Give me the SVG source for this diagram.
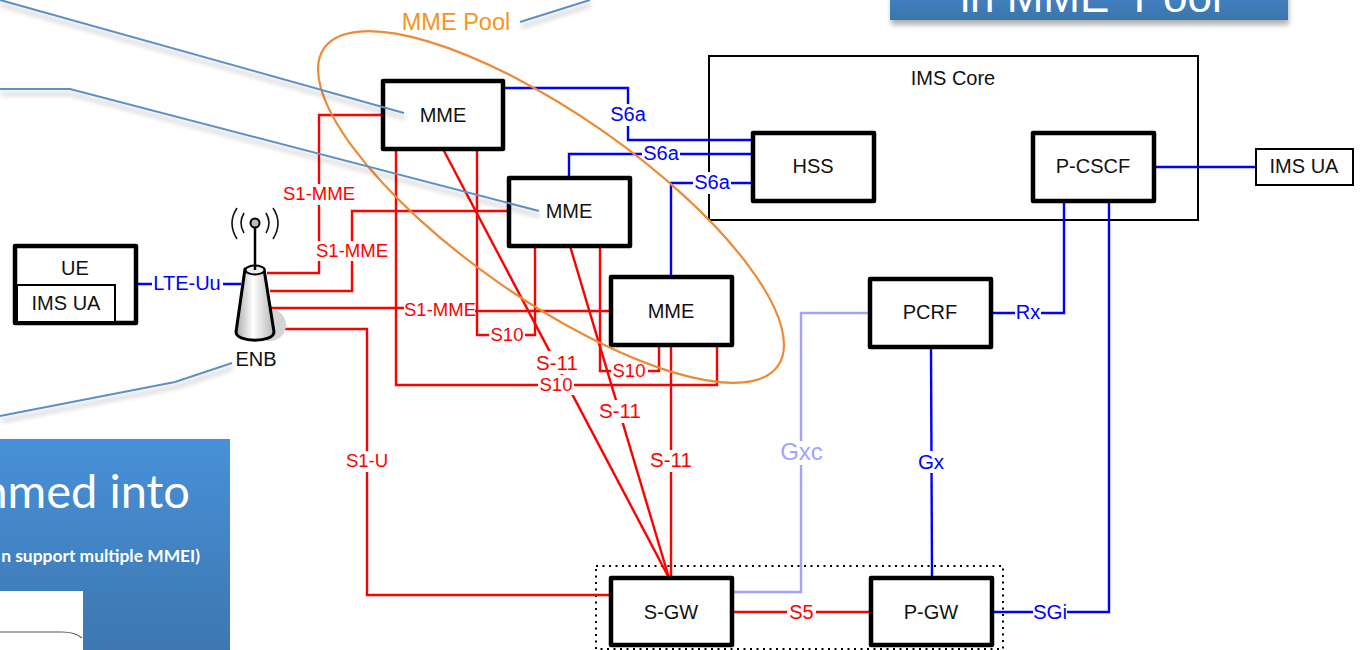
<svg xmlns="http://www.w3.org/2000/svg" width="1363" height="650" viewBox="0 0 1363 650">
<style>
text{font-family:"Liberation Sans",Arial,sans-serif;text-anchor:middle}
.n{fill:#fff;stroke:#000;stroke-width:4.5;stroke-linejoin:round}
.t{font-size:20px;fill:#111}
.r{fill:none;stroke:#f00;stroke-width:2.4}
.b{fill:none;stroke:#00f;stroke-width:2.4}
.rl{font-size:18.5px;fill:#f00}
.rs{font-size:20.5px;fill:#f00}
.bl{font-size:20px;fill:#00f}
.g{fill:#fff}
.c{fill:none;stroke:#5b90c6;stroke-width:2;filter:url(#sh)}
</style>
<defs>
<linearGradient id="bg1" x1="0" y1="0" x2="0" y2="1"><stop offset="0" stop-color="#4890d8"/><stop offset="1" stop-color="#3b74ab"/></linearGradient>
<linearGradient id="cone" x1="0" y1="0" x2="1" y2="0"><stop offset="0" stop-color="#aaa"/><stop offset=".45" stop-color="#fff"/><stop offset="1" stop-color="#b5b5b5"/></linearGradient>
<filter id="sh" x="-10%" y="-30%" width="120%" height="170%"><feGaussianBlur in="SourceAlpha" stdDeviation="2.5"/><feOffset dy="5" dx="1"/><feComponentTransfer><feFuncA type="linear" slope=".3"/></feComponentTransfer><feMerge><feMergeNode/><feMergeNode in="SourceGraphic"/></feMerge></filter>
</defs>

<g id="ims-core"><rect x="709" y="56" width="489" height="164" fill="#fff" stroke="#000" stroke-width="2"/><text class="t" x="953" y="85">IMS Core</text></g>
<rect id="gateway-group" x="596" y="566" width="407" height="83" fill="none" stroke="#000" stroke-width="2" stroke-dasharray="2 4.5"/>

<g id="connectors">
<path class="r" d="M383 115H319V273H267"/>
<path class="r" d="M509 211H352V291H270"/>
<path class="r" d="M271 308H405L475 311H611"/>
<path class="r" d="M271 329H367V595H611"/>
<path class="r" d="M396 149V385H717V345"/>
<path class="r" d="M477 149V335H535V246"/>
<path class="r" d="M600 246V371H659V345"/>
<path class="r" d="M443 149L669 578"/>
<path class="r" d="M570 246L669 578"/>
<path class="r" d="M671 345V578"/>
<path class="r" d="M732 612H871"/>
<path class="b" d="M503 88H628V140H753"/>
<path class="b" d="M569 178V154H753"/>
<path class="b" d="M671 277V183H753"/>
<path class="b" d="M136 284H241"/>
<path class="b" d="M991 313H1064V201"/>
<path class="b" d="M992 612H1109V201"/>
<path class="b" d="M1154 167H1256"/>
<path class="b" d="M931 347L932 578"/>
<path fill="none" stroke="#a3a3ff" stroke-width="2.4" d="M870 313H801V592H732"/>
<g id="labels">
<rect class="g" x="281" y="184" width="75" height="21"/><text class="rl" x="319" y="200">S1-MME</text>
<rect class="g" x="316" y="241" width="73" height="20"/><text class="rl" x="352" y="257">S1-MME</text>
<rect class="g" x="404" y="299" width="71" height="20"/><text class="rl" x="440" y="316">S1-MME</text>
<rect class="g" x="489" y="325" width="36" height="20"/><text class="rl" x="507" y="341">S10</text>
<rect class="g" x="611" y="361" width="37" height="20"/><text class="rl" x="629" y="377">S10</text>
<rect class="g" x="538" y="375" width="36" height="20"/><text class="rl" x="556" y="391">S10</text>
<rect class="g" x="534" y="351" width="46" height="23"/><text class="rs" x="557" y="370">S-11</text>
<rect class="g" x="598" y="400" width="46" height="23"/><text class="rs" x="620" y="418">S-11</text>
<rect class="g" x="648" y="450" width="46" height="22"/><text class="rs" x="671" y="467">S-11</text>
<rect class="g" x="345" y="451" width="44" height="21"/><text class="rl" x="367" y="467">S1-U</text>
<rect class="g" x="787" y="602" width="29" height="20"/><text class="bl" style="fill:#f00" x="801.500" y="619">S5</text>
<rect class="g" x="609" y="104" width="39" height="22"/><text class="bl" x="628" y="121">S6a</text>
<rect class="g" x="642" y="144" width="38" height="20"/><text class="bl" x="661" y="160">S6a</text>
<rect class="g" x="693" y="172" width="38" height="22"/><text class="bl" x="712" y="189">S6a</text>
<rect class="g" x="152" y="274" width="71" height="20"/><text class="bl" x="187" y="290">LTE-Uu</text>
<rect class="g" x="1015" y="303" width="26" height="20"/><text class="bl" x="1028" y="319">Rx</text>
<rect class="g" x="1033" y="602" width="34" height="20"/><text class="bl" style="font-size:20.5px" x="1050" y="619">SGi</text>
<rect class="g" x="916" y="451" width="30" height="22"/><text class="bl" style="font-size:20.500px" x="931" y="469">Gx</text>
<rect class="g" x="778" y="441" width="46" height="24"/><text x="801.500" y="460" style="font-size:24px;fill:#a3a3ff">Gxc</text>
</g>
</g>

<g id="mme1"><rect class="n" x="383" y="81" width="120" height="68"/><text class="t" x="443" y="122">MME</text></g>
<g id="mme2"><rect class="n" x="509" y="178" width="121" height="68"/><text class="t" x="569" y="218">MME</text></g>
<g id="mme3"><rect class="n" x="611" y="277" width="121" height="68"/><text class="t" x="671" y="318">MME</text></g>
<g id="hss"><rect class="n" x="753" y="133" width="121" height="68"/><text class="t" x="813" y="173">HSS</text></g>
<g id="p-cscf"><rect class="n" x="1033" y="133" width="121" height="68"/><text class="t" x="1093" y="173">P-CSCF</text></g>
<g id="pcrf"><rect class="n" x="870" y="279" width="121" height="68"/><text class="t" x="930" y="319">PCRF</text></g>
<g id="s-gw"><rect class="n" x="611" y="578" width="121" height="67"/><text class="t" x="671" y="619">S-GW</text></g>
<g id="p-gw"><rect class="n" x="871" y="578" width="121" height="67"/><text class="t" x="931" y="619">P-GW</text></g>
<g id="ims-ua"><rect x="1256" y="149" width="97" height="36" fill="#fff" stroke="#000" stroke-width="2"/><text class="t" x="1304" y="173">IMS UA</text></g>
<g id="ue"><rect class="n" x="15" y="246" width="121" height="77"/><rect x="17" y="285" width="98" height="37" fill="#fff" stroke="#000" stroke-width="2"/><text class="t" x="75" y="275">UE</text><text class="t" x="66" y="310">IMS UA</text></g>
<g id="enb">
<circle cx="270" cy="325" r="16" fill="#d4d4d4"/>
<path d="M245 269L236 332C236 343 274 343 274 332L264 269Z" fill="url(#cone)" stroke="#000" stroke-width="3" stroke-linejoin="round"/>
<ellipse cx="255" cy="270" rx="9.500" ry="4.500" fill="#eee" stroke="#000" stroke-width="2"/>
<path d="M255 225V270" stroke="#000" stroke-width="2.500" fill="none"/>
<circle cx="255" cy="223" r="4.500" fill="#bbb" stroke="#000" stroke-width="2"/>
<path d="M244 213Q238 223 244 233M266 213Q272 223 266 233M237 208Q227 223 237 239M273 208Q283 223 273 239" fill="none" stroke="#111" stroke-width="1.600"/>
<text x="256" y="366" style="font-size:20px;fill:#111">ENB</text>
</g>

<g id="mme-pool">
<ellipse cx="551" cy="207" rx="277" ry="92" transform="rotate(35 551 207)" fill="none" stroke="#ed8a35" stroke-width="2.200"/>
<text x="456" y="30" style="font-size:23.500px;fill:#f7941d">MME Pool</text>
</g>

<g id="callouts">
<path class="c" d="M0 0L404 113"/>
<path class="c" d="M0 89H70L539 211"/>
<path class="c" d="M0 416L175 382L232 363"/>
<path class="c" d="M520 22L590 0"/>
</g>

<g id="note-top">
<rect x="890" y="-30" width="398" height="50" fill="url(#bg1)" filter="url(#sh)"/>
<text x="1091" y="12" style="font-size:44px;fill:#fff" xml:space="preserve">in MME  Pool</text>
</g>
<g id="note-bottom">
<rect x="-20" y="439" width="250" height="240" fill="url(#bg1)"/>
<text x="190" y="508" style="font-family:Lato,sans-serif;font-size:47px;fill:#fff;text-anchor:end">mmed into</text>
<text x="200" y="562" style="font-family:Lato,sans-serif;font-size:17.400px;font-weight:700;fill:#fff;text-anchor:end">n support multiple MMEI)</text>
<rect x="0" y="591" width="83" height="59" fill="#fff"/>
<path d="M0 632H62Q75 632 82 638" fill="none" stroke="#555" stroke-width="1.200"/>
</g>
</svg>
